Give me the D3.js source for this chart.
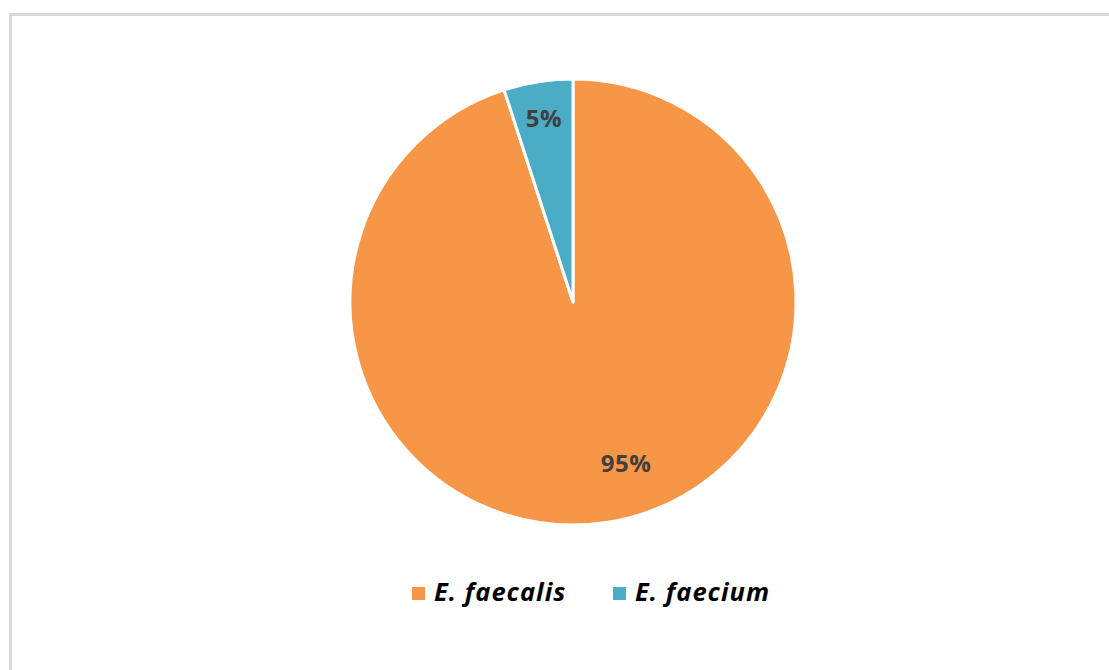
<!DOCTYPE html>
<html><head><meta charset="utf-8">
<script src="https://cdn.jsdelivr.net/npm/d3@7"></script>
<style>
html,body{margin:0;padding:0;background:#fff;}
svg{display:block;}
</style></head>
<body>
<svg id="chart" width="1109" height="670"></svg>
<script>
const categories = ["E. faecalis", "E. faecium"];
const values = [95, 5];
const colors = ["#F79646", "#4BACC6"];

const svg = d3.select("#chart");
// chart frame
svg.append("rect").attr("x", 10.5).attr("y", 14.5).attr("width", 1120).attr("height", 700)
  .attr("fill", "#fff").attr("stroke", "#d9d9d9").attr("stroke-width", 3);

const cx = 573, cy = 302, R = 223;
const pie = d3.pie().sort(null).value(d => d.v);
const data = pie(categories.map((c, i) => ({c, v: values[i], col: colors[i]})));
const arc = d3.arc().innerRadius(0).outerRadius(R);
const g = svg.append("g").attr("transform", `translate(${cx},${cy})`);
g.selectAll("path").data(data).join("path")
  .attr("d", arc).attr("fill", d => d.data.col)
  .attr("stroke", "#fff").attr("stroke-width", 3).attr("stroke-linejoin", "round");

// labels
const total = d3.sum(values);
const labelPos = [{r: 170, shift: -0.16}, {r: 186, shift: 0.0}];
g.selectAll("text.lbl").data(data).join("text").attr("class", "lbl")
  .attr("x", (d, i) => { const a = (d.startAngle + d.endAngle) / 2 + labelPos[i].shift; return labelPos[i].r * Math.sin(a); })
  .attr("y", (d, i) => { const a = (d.startAngle + d.endAngle) / 2 + labelPos[i].shift; return -labelPos[i].r * Math.cos(a); })
  .attr("dy", "0.36em").attr("text-anchor", "middle")
  .attr("font-family", "'Open Sans', sans-serif").attr("font-weight", "bold").attr("font-size", 24)
  .attr("letter-spacing", 0.5)
  .attr("fill", "#404040")
  .text(d => Math.round(d.data.v / total * 100) + "%");

// legend
const legX = [412, 613];
const leg = svg.append("g");
categories.forEach((c, i) => {
  leg.append("rect").attr("x", legX[i]).attr("y", 587).attr("width", 13).attr("height", 13).attr("fill", colors[i]);
  leg.append("text").attr("x", legX[i] + 22).attr("y", 601)
    .attr("font-family", "'Open Sans', sans-serif").attr("font-weight", "bold").attr("font-style", "italic")
    .attr("font-size", 25.5).attr("letter-spacing", 1).attr("fill", "#000").text(c);
});
</script>
</body></html>
